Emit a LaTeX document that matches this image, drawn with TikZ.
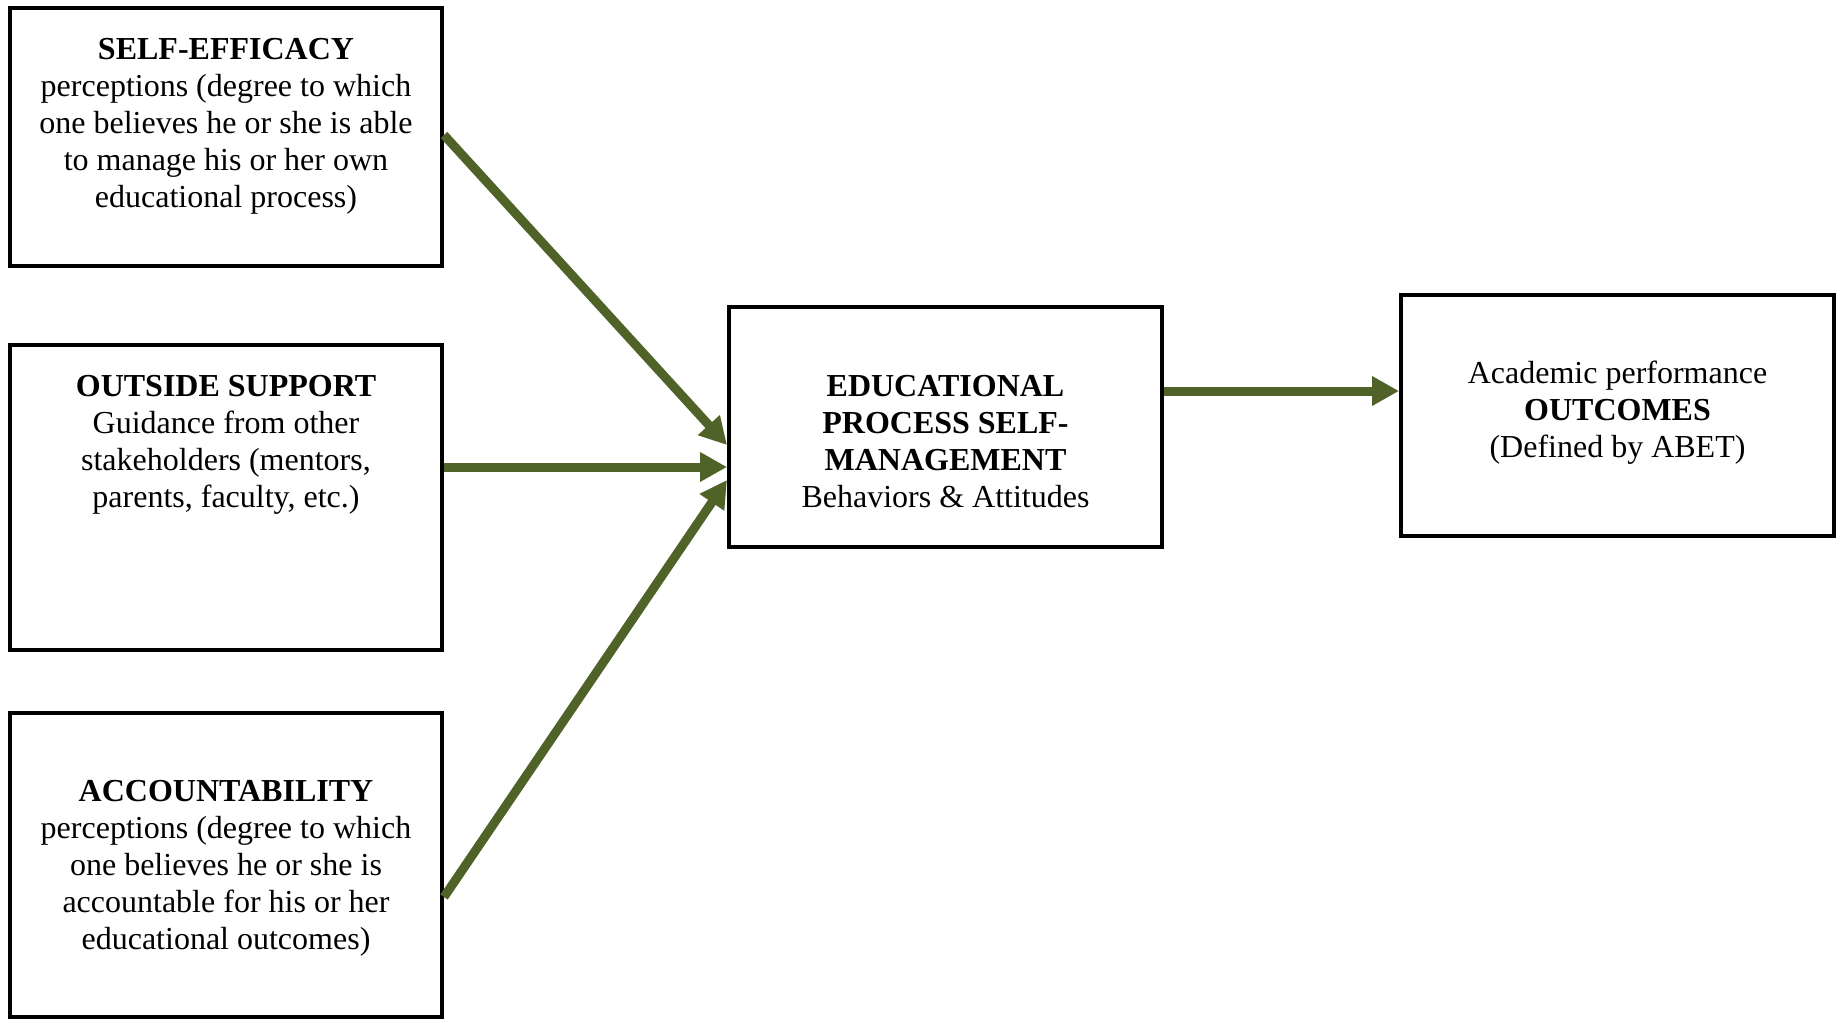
\documentclass[tikz,border=0pt]{standalone}
\usepackage{fontspec}
\setmainfont{Liberation Serif}
\usetikzlibrary{arrows.meta}
\definecolor{olivearrow}{RGB}{79,98,40}
\tikzset{
  box/.style={draw=black, line width=4pt, rectangle, inner sep=0pt},
  boxtext/.style={align=center, inner sep=0pt, font=\fontsize{32}{37}\selectfont},
  flow/.style={draw=olivearrow, line width=9pt,
    -{Triangle[length=27pt, width=28pt]}}
}
\begin{document}
\begin{tikzpicture}[x=1pt, y=-1pt]
  \useasboundingbox (0,0) rectangle (1840,1019);
  % boxes
  \node[box, minimum width=432pt, minimum height=258pt] (se)  at (226,137)   {};
  \node[box, minimum width=432pt, minimum height=305pt] (os)  at (226,497.5) {};
  \node[box, minimum width=432pt, minimum height=304pt] (acc) at (226,865)   {};
  \node[box, minimum width=433pt, minimum height=240pt] (cen) at (945.5,427) {};
  \node[box, minimum width=433pt, minimum height=241pt] (out) at (1617.5,415) {};
  % texts
  \node[boxtext] (setext) at (226,126)
    {\textbf{SELF-EFFICACY}\\perceptions (degree to which\\one believes he or she is able\\to manage his or her own\\educational process)};
  \node[boxtext] (ostext) at (226,445)
    {\textbf{OUTSIDE SUPPORT}\\Guidance from other\\stakeholders (mentors,\\parents, faculty, etc.)};
  \node[boxtext] (acctext) at (226,868)
    {\textbf{ACCOUNTABILITY}\\perceptions (degree to which\\one believes he or she is\\accountable for his or her\\educational outcomes)};
  \node[boxtext] (centext) at (945.5,442)
    {\textbf{EDUCATIONAL}\\\textbf{PROCESS SELF-}\\\textbf{MANAGEMENT}\\Behaviors \& Attitudes};
  \node[boxtext] (outtext) at (1617.5,413)
    {Academic performance\\\textbf{OUTCOMES}\\(Defined by ABET)};
  % connectors
  \draw[flow] ([yshift=2pt]se.east) -- ([yshift=-18pt]cen.west);
  \draw[flow] ([yshift=30.5pt]os.east) -- ([yshift=-40pt]cen.west);
  \draw[flow] ([yshift=-32pt]acc.east) -- ([yshift=-53pt]cen.west);
  \draw[flow] ([yshift=36pt]cen.east) -- ([yshift=24pt]out.west);
\end{tikzpicture}
\end{document}
